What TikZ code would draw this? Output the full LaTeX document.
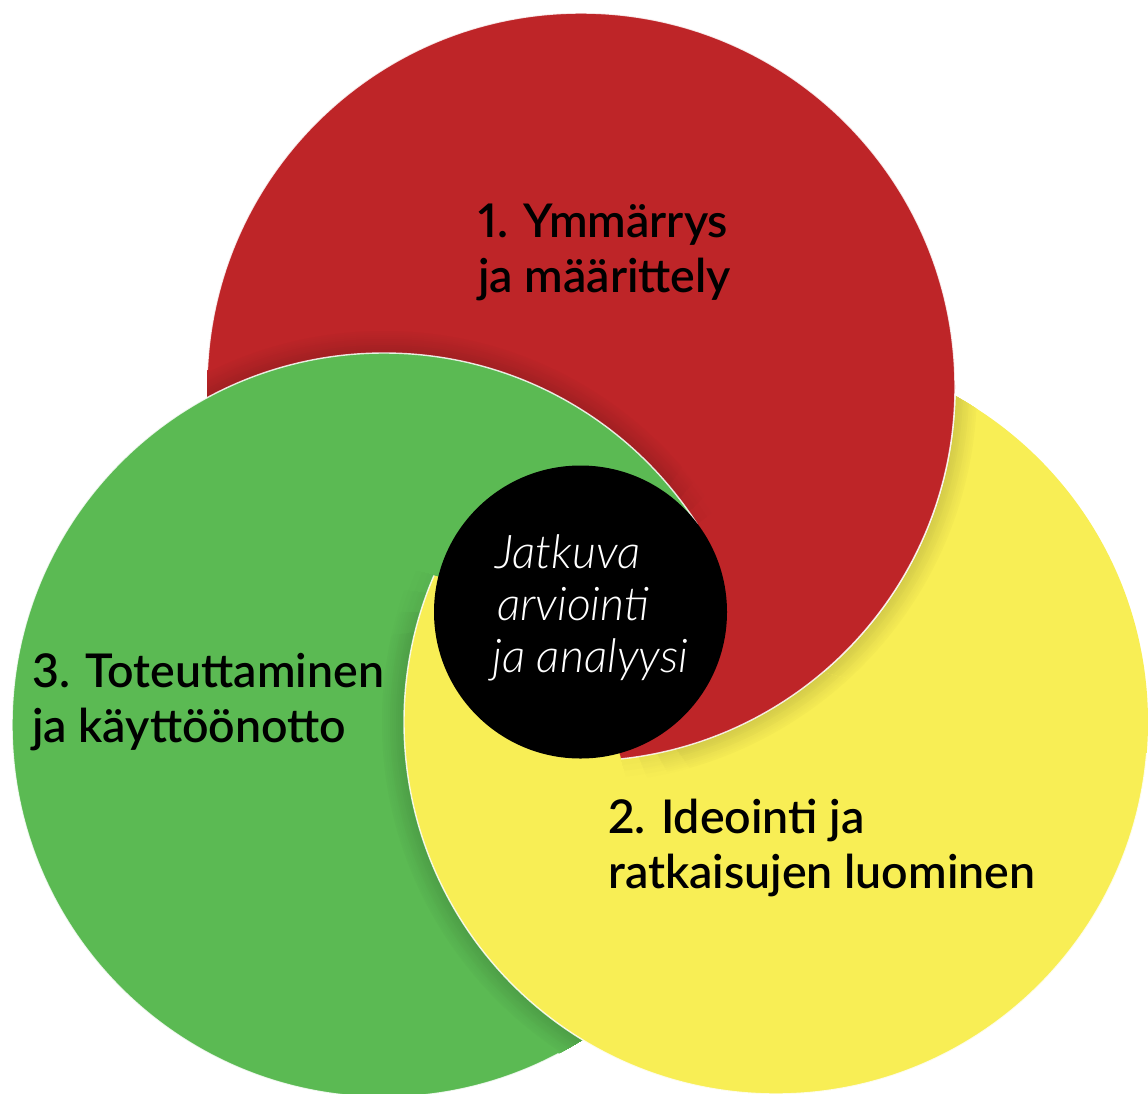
\documentclass[tikz,border=0pt]{standalone}
\usepackage{fontspec}
\usetikzlibrary{calc}
\setmainfont{Lato}
\newfontfamily\phasefont{Lato Semibold}[Numbers=Proportional]
\newfontfamily\lightit{Lato Light Italic}
\definecolor{cred}{RGB}{190,37,40}
\definecolor{cgreen}{RGB}{91,186,83}
\definecolor{cyellow}{RGB}{248,238,85}
\newcommand\cR{(581,387) circle[radius=374pt]}
\newcommand\cY{(776,722) circle[radius=372pt]}
\newcommand\cG{(384,725) circle[radius=372pt]}
% half-planes through the centre of the disc (above / below its horizontal)
\newcommand\upperpoly{(-2420,612) -- (3581,612) -- (3581,-2388) -- (-2420,-2388) -- cycle}
\newcommand\lowerpoly{(-2420,612) -- (3581,612) -- (3581,3612) -- (-2420,3612) -- cycle}
% lower-right sector
\newcommand\sectR{(580.5,612) -- (1248,3022) -- (4000,3022) -- (4000,-893) -- (2578,-893) -- cycle}
% soft shadow drawn in solid shades: #1 outline, #2 colour below, #3 strength
\newcommand\shadowsolid[3]{\foreach \w in {48,44,...,4}{\pgfmathtruncatemacro\k{#3*(16-\w/3.2)}\draw[line width=\w pt,draw=black!\k!#2] #1;}}
\tikzset{
  hilite/.style={white,opacity=0.85,line width=1.4pt},
  phase/.style={anchor=base west,inner sep=0pt,text=black,font=\phasefont\fontsize{46.5}{46.5}\selectfont},
  core/.style={anchor=base west,inner sep=0pt,text=white,font=\lightit\fontsize{46.5}{46.5}\selectfont},
}
\begin{document}
\begin{tikzpicture}[x=1pt,y=-1pt]
\useasboundingbox (0,0) rectangle (1148,1093);
\clip (0,0) rectangle (1148,1093);
\fill[white] (0,0) rectangle (1148,1093);
\coordinate (K) at (580.5,612);
% ---- base layering: yellow < red < green
\fill[cyellow] \cY;
\begin{scope}\clip \cY; \shadowsolid{\cR}{cyellow}{1}\end{scope}
\fill[cred] \cR;
\draw[hilite] \cR;
\foreach \a/\f in {37/0.25,43/0.5,49/0.75,55/1}{
  \begin{scope}
    \clip[rotate around={\a:(K)}] \upperpoly;
    \clip \cR;
    \shadowsolid{\cG}{cred}{\f}
  \end{scope}}
\fill[cgreen] \cG;
\draw[hilite] \cG;
% ---- yellow over green (lower half-plane)
\begin{scope}
  \clip[rotate around={-14:(K)}] \lowerpoly;
  \foreach \r/\f in {-14/0.25,-7/0.5,0/0.75,7/1}{
    \begin{scope}
      \clip[rotate around={\r:(K)}] \lowerpoly;
      \clip \cG;
      \shadowsolid{\cY}{cgreen}{\f}
    \end{scope}}
  \fill[cyellow] \cY;
  \draw[hilite] \cY;
\end{scope}
% ---- red over yellow (lower-right sector)
\begin{scope}
  \clip \sectR;
  \foreach \b/\f in {105.5/0.25,112/0.5,118.5/0.75,125/1}{
    \begin{scope}
      \clip[rotate around={-14:(K)}] \lowerpoly;
      \clip[rotate around={\b:(K)}] \lowerpoly;
      \clip \cY;
      \shadowsolid{\cR}{cyellow}{\f}
    \end{scope}}
  \fill[cred] \cR;
  \draw[hilite] \cR;
\end{scope}
% ---- centre
\node[circle,fill=black,minimum size=293pt,inner sep=0pt] (core) at (K) {};
\node[phase] (p1a) at (478,237) {1. Ymmärrys};
\node[phase] (p1b) at (478,292) {ja määrittely};
\node[phase] (p3a) at (32,687) {3. Toteuttaminen};
\node[phase] (p3b) at (32,742) {ja käyttöönotto};
\node[phase] (p2a) at (608,833) {2. Ideointi ja};
\node[phase] (p2b) at (608,888) {ratkaisujen luominen};
\node[core] (c1) at (495,568) {Jatkuva};
\node[core] (c2) at (497,620) {arviointi};
\node[core] (c3) at (492,672) {ja analyysi};
\end{tikzpicture}
\end{document}
